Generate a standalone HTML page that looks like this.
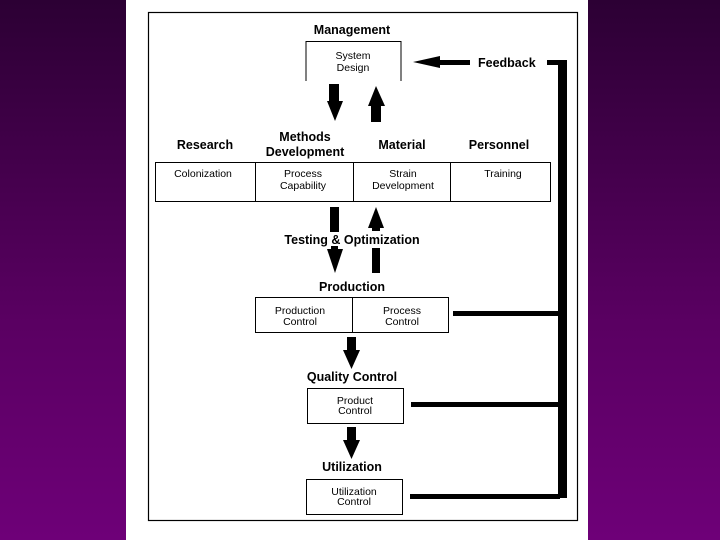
<!DOCTYPE html>
<html><head><style>
body{margin:0;width:720px;height:540px;overflow:hidden;background:linear-gradient(#2c0034,#5a0062 60%,#6e0078);}
svg{position:absolute;left:0;top:0}
text{font-family:"Liberation Sans",sans-serif;fill:#000}
.h{font-weight:bold;font-size:12.5px;text-anchor:middle}
.t{font-size:10.5px;text-anchor:middle}
</style></head><body>
<svg width="720" height="540" viewBox="0 0 720 540">
<rect x="126" y="0" width="462" height="540" fill="#fff"/>
<rect x="148.5" y="12.5" width="429" height="508" fill="none" stroke="#000" stroke-width="1.2"/>
<g stroke="#000" stroke-width="1" fill="none">
<path d="M306 81V41.5H401V81"/>
<rect x="155.5" y="162.5" width="395" height="39"/>
<path d="M255.5 162v40M353.5 162v40M450.5 162v40"/>
<rect x="255.5" y="297.5" width="193" height="35"/>
<path d="M352.5 297v36"/>
<rect x="307.5" y="388.5" width="96" height="35"/>
<rect x="306.5" y="479.5" width="96" height="35"/>
</g>
<text class="h" x="352" y="34">Management</text>
<text class="t" x="353" y="59">System</text>
<text class="t" x="353" y="71">Design</text>
<text x="478" y="67" style="font-weight:bold;font-size:12.5px">Feedback</text>
<text class="h" x="205" y="149">Research</text>
<text class="h" x="305" y="141">Methods</text>
<text class="h" x="305" y="156">Development</text>
<text class="h" x="402" y="149">Material</text>
<text class="h" x="499" y="149">Personnel</text>
<text class="t" x="203" y="177">Colonization</text>
<text class="t" x="303" y="177">Process</text>
<text class="t" x="303" y="189">Capability</text>
<text class="t" x="403" y="177">Strain</text>
<text class="t" x="403" y="189">Development</text>
<text class="t" x="503" y="177">Training</text>
<text class="h" x="352" y="244">Testing &amp; Optimization</text>
<text class="h" x="352" y="291">Production</text>
<text class="t" x="300" y="314">Production</text>
<text class="t" x="300" y="325">Control</text>
<text class="t" x="402" y="314">Process</text>
<text class="t" x="402" y="325">Control</text>
<text class="h" x="352" y="381">Quality Control</text>
<text class="t" x="355" y="404">Product</text>
<text class="t" x="355" y="414">Control</text>
<text class="h" x="352" y="471">Utilization</text>
<text class="t" x="354" y="495">Utilization</text>
<text class="t" x="354" y="505">Control</text>
<g fill="#000">
<!-- feedback arrow -->
<polygon points="413,62 440,56 440,60 470,60 470,65 440,65 440,68"/>
<rect x="547" y="60" width="20" height="5"/>
<rect x="558" y="60" width="9" height="438"/>
<rect x="453" y="311" width="107" height="5"/>
<rect x="411" y="402" width="149" height="5"/>
<rect x="410" y="494" width="150" height="5"/>
<!-- mgmt arrows -->
<polygon points="329,84 339,84 339,101 343,101 335,121 327,101 329,101"/>
<polygon points="376,86 385,106 381,106 381,122 371,122 371,106 368,106"/>
<!-- testing arrows -->
<rect x="330" y="207" width="9" height="25"/>
<polygon points="327,249 343,249 335,273"/>
<rect x="331" y="246" width="7" height="5"/>
<polygon points="376,207 384,228 368,228"/>
<rect x="372" y="226" width="8" height="5"/>
<rect x="372" y="248" width="8" height="25"/>
<!-- production down -->
<polygon points="347,337 356,337 356,350 360,350 351.5,369 343,350 347,350"/>
<polygon points="347,427 356,427 356,440 360,440 351.5,459 343,440 347,440"/>
</g>
</svg>
</body></html>
